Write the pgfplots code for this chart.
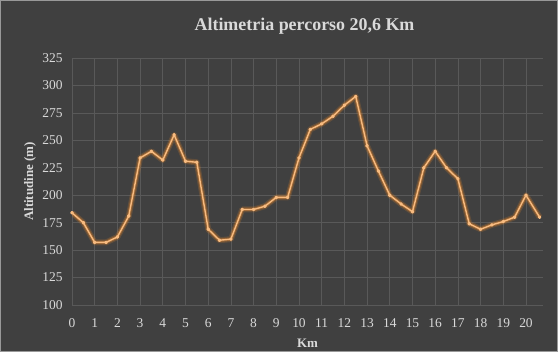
\documentclass[border=0pt]{standalone}
\usepackage{pgfplots}
\pgfplotsset{compat=1.18}
\usepackage{pgfplotstable}
\usepackage{fontspec}
\setmainfont{Liberation Serif}
\definecolor{bg}{HTML}{404040}
\definecolor{gridc}{HTML}{595959}
\definecolor{txt}{HTML}{D9D9D9}
\definecolor{lineo}{HTML}{F7BB80}
\definecolor{glow}{HTML}{E9862A}
\pgfplotstableread{
x y
0 184
0.5 175
1 157
1.5 157
2 162
2.5 181
3 234
3.5 240
4 232
4.5 255
5 231
5.5 230
6 169
6.5 159
7 160
7.5 187
8 187
8.5 190
9 198
9.5 198
10 234
10.5 260
11 265
11.5 272
12 282
12.5 290
13 245
13.5 222
14 200
14.5 192
15 185
15.5 225
16 240
16.5 225
17 215
17.5 174
18 169
18.5 173
19 176
19.5 180
20 200
20.6 180
}\alt
\begin{document}
\begin{tikzpicture}
\fill[bg] (0,0) rectangle (558bp,352bp);
\draw[gray!80, line width=1bp] (0.5bp,0.5bp) rectangle (557.5bp,351.5bp);
\begin{axis}[
  at={(72bp,47bp)}, anchor=south west,
  scale only axis, width=471bp, height=247bp,
  xmin=0, xmax=20.75, ymin=100, ymax=325,
  xtick={0,1,...,20}, ytick={100,125,...,325},
  grid=major, major grid style={gridc, line width=0.7bp},
  axis line style={draw=none}, tick style={draw=none},
  /pgf/number format/assume math mode=true,
  ticklabel style={txt, font=\fontsize{13.5}{14}\selectfont},
  xticklabel style={yshift=-10bp},
  yticklabel style={xshift=-6bp},
  xlabel={Km}, ylabel={Altitudine (m)},
  every axis x label/.style={at={(axis description cs:0.5,0)}, anchor=center, yshift=-38bp},
  every axis y label/.style={at={(axis description cs:0,0.5)}, anchor=center, rotate=90, yshift=42bp},
  label style={txt, font=\bfseries\fontsize{13}{14}\selectfont},
  title={Altimetria percorso 20,6 Km},
  every axis title/.style={at={(axis description cs:0.5,1)}, anchor=center, yshift=32bp, xshift=-3bp},
  title style={txt, font=\bfseries\fontsize{18}{20}\selectfont},
]
\addplot[glow, opacity=0.2, line width=6bp, line join=round] table[x=x,y=y]{\alt};
\addplot[glow, opacity=0.4, line width=3.5bp, line join=round] table[x=x,y=y]{\alt};
\addplot[lineo, line width=1.4bp, line join=round, mark=*, mark size=1.1bp, mark options={fill=lineo!50!white, draw=lineo}] table[x=x,y=y]{\alt};
\end{axis}
\pgfresetboundingbox
\path (0,0) rectangle (558bp,352bp);
\end{tikzpicture}
\end{document}
